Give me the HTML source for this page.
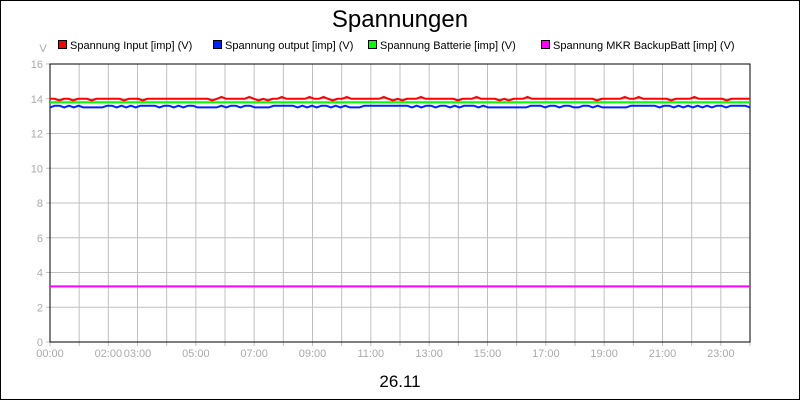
<!DOCTYPE html>
<html><head><meta charset="utf-8"><style>
body{margin:0;background:#fff;}
svg{display:block;font-family:"Liberation Sans",sans-serif;}
</style></head><body>
<svg id="c" width="800" height="400">
<rect x="0.5" y="0.5" width="799" height="399" fill="#fff" stroke="#000"/>
<text x="400" y="27" font-size="24" text-anchor="middle">Spannungen</text>
<text x="43" y="52" font-size="11" fill="#aaa" text-anchor="middle">V</text>
<text x="400" y="387" font-size="17" text-anchor="middle">26.11</text>
<g id="grid"></g><g id="series"></g><g id="legend"></g>
</svg>
<script>
const yTicks=[0,2,4,6,8,10,12,14,16];
const xLabels=["00:00","02:00","03:00","05:00","07:00","09:00","11:00","13:00","15:00","17:00","19:00","21:00","23:00"];
const xLabelHours=[0,2,3,5,7,9,11,13,15,17,19,21,23];
const inputV=[14.0,14.0,13.9,14.0,14.0,13.9,14.0,14.0,14.0,13.9,14.0,14.0,14.0,14.0,14.0,14.0,13.9,14.0,14.0,14.0,13.9,14.0,14.0,14.0,14.0,14.0,14.0,14.0,14.0,14.0,14.0,14.0,14.0,14.0,14.0,13.9,14.0,14.1,14.0,14.0,14.0,14.0,14.0,14.1,14.0,13.9,14.0,13.9,14.0,14.0,14.1,14.0,14.0,14.0,14.0,14.0,14.1,14.0,14.0,14.1,14.0,13.9,14.0,14.0,14.1,14.0,14.0,14.0,14.0,14.0,14.0,14.0,14.1,14.0,13.9,14.0,13.9,14.0,14.0,14.0,14.1,14.0,14.0,14.0,14.0,14.0,14.0,14.0,13.9,14.0,14.0,14.0,14.1,14.0,14.0,14.0,14.0,13.9,14.0,13.9,14.0,14.0,14.0,14.1,14.0,14.0,14.0,14.0,14.0,14.0,14.0,14.0,14.0,14.0,14.0,14.0,14.0,14.0,13.9,14.0,14.0,14.0,14.0,14.0,14.1,14.0,14.0,14.1,14.0,14.0,14.0,14.0,14.0,14.0,13.9,14.0,14.0,14.0,14.0,14.1,14.0,14.0,14.0,14.0,14.0,14.0,13.9,14.0,14.0,14.0,14.0,14.0];
const outputV=[13.5,13.6,13.6,13.5,13.6,13.5,13.6,13.5,13.5,13.5,13.5,13.5,13.6,13.6,13.5,13.6,13.5,13.6,13.5,13.6,13.6,13.6,13.6,13.5,13.6,13.6,13.5,13.6,13.5,13.6,13.6,13.5,13.5,13.5,13.5,13.5,13.6,13.5,13.6,13.6,13.5,13.6,13.6,13.5,13.5,13.5,13.5,13.6,13.6,13.6,13.6,13.6,13.5,13.6,13.5,13.6,13.5,13.6,13.6,13.5,13.6,13.5,13.6,13.5,13.5,13.5,13.6,13.6,13.6,13.6,13.6,13.6,13.6,13.6,13.6,13.6,13.5,13.6,13.5,13.6,13.6,13.5,13.6,13.6,13.5,13.6,13.5,13.6,13.6,13.6,13.5,13.6,13.5,13.5,13.5,13.5,13.5,13.5,13.5,13.5,13.5,13.6,13.6,13.6,13.5,13.6,13.6,13.5,13.6,13.6,13.5,13.5,13.6,13.6,13.5,13.6,13.5,13.5,13.5,13.5,13.5,13.5,13.6,13.6,13.6,13.6,13.6,13.6,13.5,13.6,13.6,13.5,13.6,13.5,13.6,13.5,13.6,13.5,13.6,13.5,13.6,13.6,13.5,13.6,13.6,13.6,13.6,13.5];
const batterieV=[13.8,13.8];
const mkrV=[3.2,3.2];
const legendNames=["Spannung Input [imp] (V)","Spannung output [imp] (V)","Spannung Batterie [imp] (V)","Spannung MKR BackupBatt [imp] (V)"];
const colors=["#ff0000","#0022ff","#00ff00","#ff00ff"];
const legendX=[58,213,368,541];

const NS="http://www.w3.org/2000/svg";
const X0=50,X1=750,Y0=342,Y1=64;
const xs=h=>X0+(X1-X0)*h/24;
const ys=v=>Y0-(Y0-Y1)*v/16;
function mk(t,a,p){const e=document.createElementNS(NS,t);for(const k in a)e.setAttribute(k,a[k]);p.appendChild(e);return e;}
const grid=document.getElementById('grid');
for(let h=0;h<=24;h++){
  const l=mk('line',{x1:xs(h),x2:xs(h),y1:Y1,y2:Y0+4,stroke:'#c0c0c0'},grid);
  
  
}
yTicks.forEach(v=>{
  const l=mk('line',{x1:X0-4,x2:X1,y1:ys(v),y2:ys(v),stroke:'#c0c0c0'},grid);
  
  
  const t=mk('text',{x:X0-7,y:ys(v)+4,'font-size':11,fill:'#aaa','text-anchor':'end'},grid);
  t.textContent=v;
  
  
});
xLabels.forEach((s,i)=>{
  const t=mk('text',{x:xs(xLabelHours[i]),y:357,'font-size':11,fill:'#aaa','text-anchor':'middle'},grid);
  t.textContent=s;
  
  
});
const frame=mk('rect',{x:X0,y:Y1,width:X1-X0,height:Y0-Y1,fill:'none',stroke:'#000'},grid);


const ser=document.getElementById('series');
const names=['series-input','series-output','series-batterie','series-mkr'];
[inputV,outputV,batterieV,mkrV].forEach((arr,i)=>{
  const pts=arr.map((v,j)=>xs(24*j/(arr.length-1)).toFixed(1)+','+ys(v).toFixed(1)).join(' ');
  const p=mk('polyline',{points:pts,fill:'none',stroke:colors[i],'stroke-width':2},ser);
  
  
});
const lg=document.getElementById('legend');
legendNames.forEach((n,i)=>{
  const r=mk('rect',{x:legendX[i]+0.5,y:40.5,width:8,height:8,fill:colors[i],stroke:'#000'},lg);
  
  
  const t=mk('text',{x:legendX[i]+12,y:49,'font-size':11},lg);
  t.textContent=n;
  
  
});
</script>
</body></html>
